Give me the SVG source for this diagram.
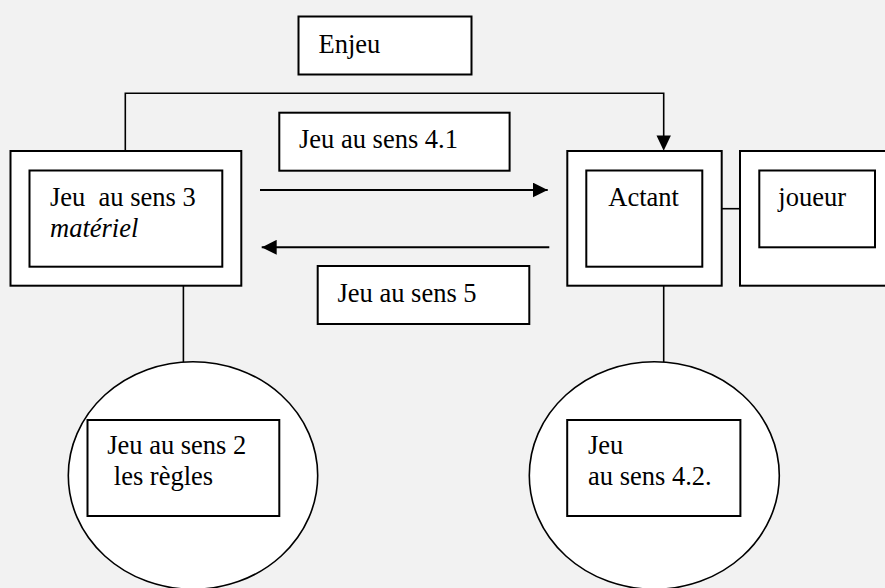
<svg xmlns="http://www.w3.org/2000/svg" width="885" height="588" viewBox="0 0 885 588" font-family="'Liberation Serif', 'Times New Roman', serif" font-size="26">
<defs>
<style>
.box{fill:#fff;stroke:#000;stroke-width:2}
.ell{fill:#fff;stroke:#000;stroke-width:1.6}
.ln{fill:none;stroke:#000;stroke-width:1.6}
.arr{fill:none;stroke:#000;stroke-width:2}
.t{font-family:'Liberation Serif','Times New Roman',serif;font-size:26.5px;fill:#000}
</style>
<marker id="ah" viewBox="0 0 15 15" refX="15" refY="7.5" markerWidth="15" markerHeight="15" markerUnits="userSpaceOnUse" orient="auto">
<path d="M0,0 L15,7.5 L0,15 Z" fill="#000"/>
</marker>
</defs>
<rect width="885" height="588" fill="#f2f2f2"/>
<g id="connectors">
<path class="ln" d="M125.3,150.7 V93.3 H663.7 V136"/>
<path d="M656.5,135.5 L670.9,135.5 L663.7,150.7 Z" fill="#000"/>
<line class="arr" x1="260" y1="190" x2="547.7" y2="190" marker-end="url(#ah)"/>
<line class="arr" x1="549.3" y1="247.3" x2="261.7" y2="247.3" marker-end="url(#ah)"/>
<line class="ln" x1="721.7" y1="208.7" x2="740" y2="208.7" stroke-width="2"/>
<line class="ln" x1="183.4" y1="285.7" x2="183.4" y2="362"/>
<line class="ln" x1="663.7" y1="285.7" x2="663.7" y2="362"/>
</g>
<g id="enjeu">
<rect class="box" x="298.5" y="16.5" width="173" height="58"/>
<text class="t" x="318.5" y="53.3">Enjeu</text>
</g>
<g id="sens41">
<rect class="box" x="279.3" y="112.7" width="230.3" height="58"/>
<text class="t" x="299" y="148.3">Jeu au sens 4.1</text>
</g>
<g id="sens5">
<rect class="box" x="317.7" y="266" width="211.6" height="58"/>
<text class="t" x="337.5" y="301.7">Jeu au sens 5</text>
</g>
<g id="sens3">
<rect class="box" x="10.5" y="151" width="230.8" height="134.7"/>
<rect class="box" x="29.5" y="170.5" width="192.8" height="96.2"/>
<text class="t" x="50" y="205.5" xml:space="preserve">Jeu  au sens 3</text>
<text class="t" x="50" y="236.5" font-style="italic">matériel</text>
</g>
<g id="actant">
<rect class="box" x="567.3" y="151" width="154.4" height="134.7"/>
<rect class="box" x="586.3" y="170.5" width="116" height="96.2"/>
<text class="t" x="608.3" y="205.7">Actant</text>
</g>
<g id="joueur">
<rect class="box" x="740" y="151" width="150" height="134.7"/>
<rect class="box" x="759.3" y="170.5" width="115.7" height="76.8"/>
<text class="t" x="778.3" y="205.7">joueur</text>
</g>
<g id="sens2">
<ellipse class="ell" cx="193" cy="475.5" rx="124.7" ry="113.8"/>
<rect class="box" x="87.5" y="420" width="191.8" height="96"/>
<text class="t" x="107.2" y="454">Jeu au sens 2</text>
<text class="t" x="107.2" y="485" xml:space="preserve"> les règles</text>
</g>
<g id="sens42">
<ellipse class="ell" cx="654.3" cy="475.5" rx="125" ry="113.8"/>
<rect class="box" x="567.2" y="420" width="173.2" height="96"/>
<text class="t" x="588" y="454">Jeu</text>
<text class="t" x="588" y="485">au sens 4.2.</text>
</g>
</svg>
